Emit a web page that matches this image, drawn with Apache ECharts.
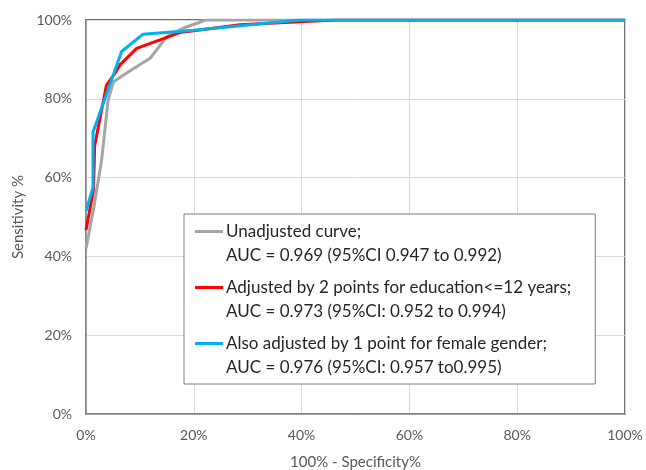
<!DOCTYPE html>
<html>
<head>
<meta charset="utf-8">
<script src="https://cdn.jsdelivr.net/npm/echarts@6/dist/echarts.min.js"></script>
<style>
html,body{margin:0;padding:0;background:#fff;}
#c{width:646px;height:470px;}
</style>
</head>
<body>
<div id="c"></div>
<script>
// x = 100% - Specificity (%), y = Sensitivity (%)
var unadjX = [0, 1.4, 2.9, 4.1, 5.1, 8.4, 11.9, 15, 18, 22.2, 100];
var unadjY = [42, 52, 64.5, 79.7, 84.3, 87.3, 90.3, 95.8, 97.9, 100, 100];
var eduX = [0, 1.4, 1.6, 3.8, 5.4, 6.3, 9.4, 17.4, 28.6, 46.2, 100];
var eduY = [46.7, 57, 68, 83.5, 86.5, 88.6, 92.8, 96.8, 98.8, 100, 100];
var femX = [0, 1.3, 1.3, 6.6, 10.6, 20, 39.7, 100];
var femY = [51.5, 57.5, 71.5, 92, 96.4, 97.4, 100, 100];
var tickLabels = ['0%', '20%', '40%', '60%', '80%', '100%'];
var seriesNames = ['Unadjusted curve;', 'Adjusted by 2 points for education<=12 years;', 'Also adjusted by 1 point for female gender;'];
var aucLines = ['AUC = 0.969 (95%CI 0.947 to 0.992)', 'AUC = 0.973 (95%CI: 0.952 to 0.994)', 'AUC = 0.976 (95%CI: 0.957 to0.995)'];
var colors = ['#A5A5A5', '#FF0000', '#00B0F0'];

function pairs(xs, ys) { return xs.map(function (x, i) { return [x, ys[i]]; }); }
var allData = [pairs(unadjX, unadjY), pairs(eduX, eduY), pairs(femX, femY)];

var FONT = 'Lato';
var LH = 24;
var rich = {
  sp: { width: 28, height: 3, lineHeight: LH },
  t: { fontSize: 17, lineHeight: LH, color: '#262626', fontFamily: FONT, padding: [0, 0, 0, 3] }
};
colors.forEach(function (c, i) {
  rich['l' + i] = { width: 28, height: 3, lineHeight: LH, backgroundColor: c, verticalAlign: 'middle' };
});

var chart = echarts.init(document.getElementById('c'), null, { renderer: 'canvas' });
chart.setOption({
  animation: false,
  backgroundColor: '#ffffff',
  grid: { left: 86, right: 21, top: 20, bottom: 56, containLabel: false, outerBoundsMode: 'none',
    show: true, borderColor: '#404040', borderWidth: 1.5, backgroundColor: 'transparent' },
  xAxis: {
    type: 'value', min: 0, max: 100, interval: 20,
    name: '100% - Specificity%', nameLocation: 'middle', nameGap: 41,
    nameTextStyle: { fontSize: 15, color: '#595959', fontFamily: FONT },
    axisLine: { show: true, lineStyle: { color: '#8C8C8C', width: 1.5 } },
    axisTick: { show: false },
    axisLabel: { fontSize: 14, color: '#595959', fontFamily: FONT, margin: 14,
      formatter: function (v) { return tickLabels[Math.round(v / 20)]; } },
    splitLine: { show: true, lineStyle: { color: '#D9D9D9', width: 1 } }
  },
  yAxis: {
    type: 'value', min: 0, max: 100, interval: 20,
    name: 'Sensitivity %', nameLocation: 'middle', nameGap: 60,
    nameTextStyle: { fontSize: 15, color: '#595959', fontFamily: FONT },
    axisLine: { show: true, lineStyle: { color: '#8C8C8C', width: 1.5 } },
    axisTick: { show: false },
    axisLabel: { fontSize: 14, color: '#595959', fontFamily: FONT, margin: 14,
      formatter: function (v) { return tickLabels[Math.round(v / 20)]; } },
    splitLine: { show: true, lineStyle: { color: '#D9D9D9', width: 1 } }
  },
  legend: {
    orient: 'vertical', left: 184, top: 214,
    data: seriesNames,
    icon: 'rect', itemWidth: 0, itemHeight: 0, itemGap: 15,
    padding: [9, 24, 8, 6],
    borderColor: '#7F7F7F', borderWidth: 1, backgroundColor: '#ffffff',
    selectedMode: false,
    textStyle: { rich: rich },
    formatter: function (name) {
      var i = seriesNames.indexOf(name);
      return '{l' + i + '|}{t|' + name + '}\n{sp|}{t|' + aucLines[i] + '}';
    }
  },
  series: seriesNames.map(function (n, i) {
    return {
      name: n, type: 'line', data: allData[i], showSymbol: false, symbol: 'none',
      lineStyle: { color: colors[i], width: 3 }, itemStyle: { color: colors[i] },
      z: 2 + i, clip: true
    };
  })
});
</script>
</body>
</html>
